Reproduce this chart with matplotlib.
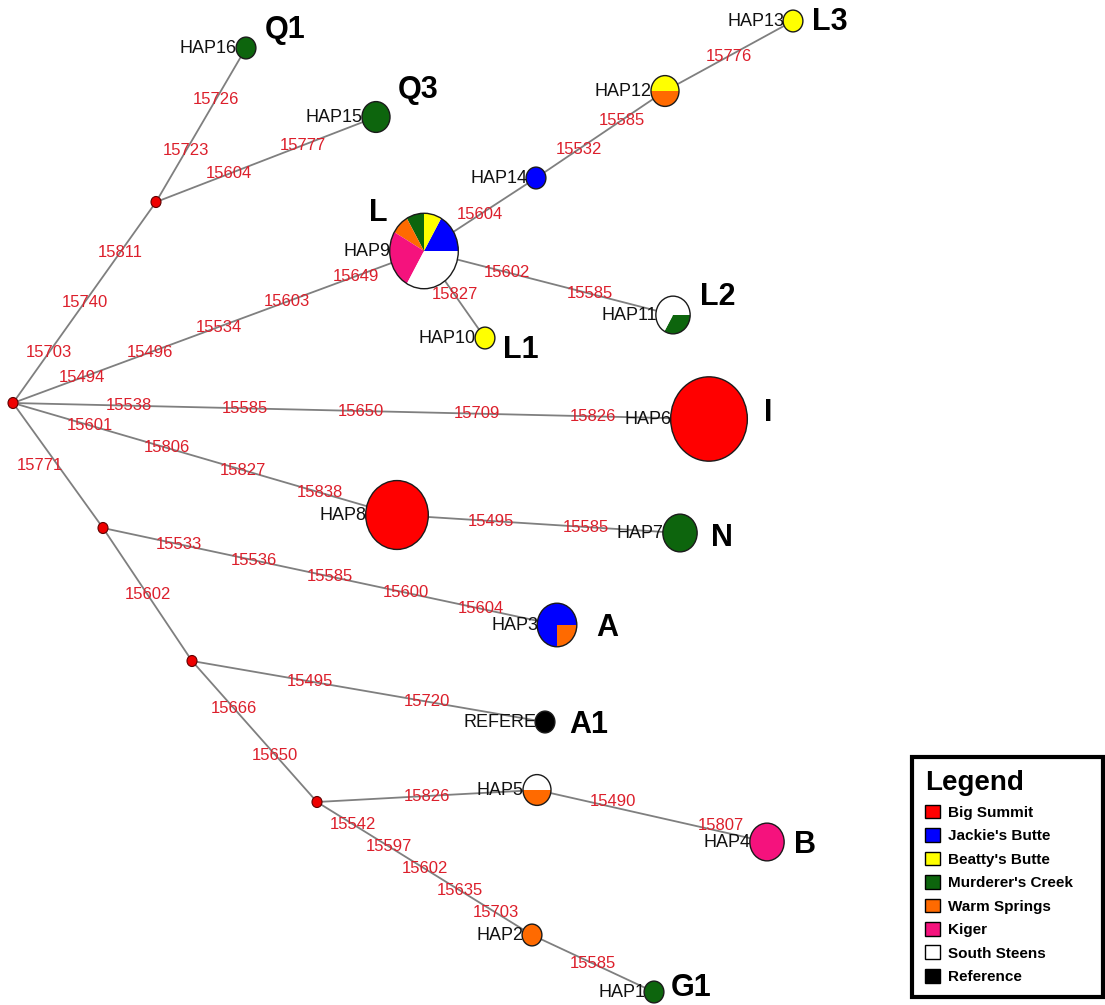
import matplotlib.pyplot as plt
import matplotlib.transforms as mtransforms
from matplotlib.patches import Wedge, Ellipse, Patch
import numpy as np

plt.rcParams['font.family'] = ['Liberation Sans', 'DejaVu Sans']

W, H = 1105, 1005
SY = 1.1   # node outlines are drawn a little taller than wide
R1 = 9.9   # radius of a node holding one sample

populations = ["Big Summit", "Jackie's Butte", "Beatty's Butte", "Murderer's Creek",
               "Warm Springs", "Kiger", "South Steens", "Reference"]
pop_colors = ['#ff0000', '#0000ff', '#ffff00', '#0d650d',
              '#ff6a00', '#f5127d', '#ffffff', '#000000']

# haplotypes: layout position, sample counts per population (same order as above)
hap_names = ['HAP1', 'HAP2', 'HAP3', 'HAP4', 'HAP5', 'HAP6', 'HAP7', 'HAP8',
             'HAP9', 'HAP10', 'HAP11', 'HAP12', 'HAP13', 'HAP14', 'HAP15', 'HAP16', 'REFERE']
hap_x = [654, 532, 557, 767, 537, 709, 680, 397, 424, 485, 673, 665, 793, 536, 376, 246, 545]
hap_y = [992, 935, 625, 842, 790, 419, 533, 515, 251, 338, 315, 91, 21, 178, 117, 48, 722]
hap_counts = [
    [0, 0, 0, 1, 0, 0, 0, 0],   # HAP1
    [0, 0, 0, 0, 1, 0, 0, 0],   # HAP2
    [0, 3, 0, 0, 1, 0, 0, 0],   # HAP3
    [0, 0, 0, 0, 0, 3, 0, 0],   # HAP4
    [0, 0, 0, 0, 1, 0, 1, 0],   # HAP5
    [15, 0, 0, 0, 0, 0, 0, 0],  # HAP6
    [0, 0, 0, 3, 0, 0, 0, 0],   # HAP7
    [10, 0, 0, 0, 0, 0, 0, 0],  # HAP8
    [0, 2, 1, 1, 1, 3, 4, 0],   # HAP9
    [0, 0, 1, 0, 0, 0, 0, 0],   # HAP10
    [0, 0, 0, 1, 0, 0, 2, 0],   # HAP11
    [0, 0, 1, 0, 1, 0, 0, 0],   # HAP12
    [0, 0, 1, 0, 0, 0, 0, 0],   # HAP13
    [0, 1, 0, 0, 0, 0, 0, 0],   # HAP14
    [0, 0, 0, 2, 0, 0, 0, 0],   # HAP15
    [0, 0, 0, 1, 0, 0, 0, 0],   # HAP16
    [0, 0, 0, 0, 0, 0, 0, 1],   # REFERE
]
# angle where the first slice starts
hap_start = {'HAP5': 180, 'HAP11': -120}

# median vectors
mv_names = ['mv0', 'mv1', 'mv2', 'mv3', 'mv4']
mv_x = [13, 156, 103, 192, 317]
mv_y = [403, 202, 528, 661, 802]

# links with the mutated positions written along them
edges = [
    ('mv0', 'mv1', ['15703', '15740', '15811']),
    ('mv1', 'HAP16', ['15723', '15726']),
    ('mv1', 'HAP15', ['15604', '15777']),
    ('mv0', 'HAP9', ['15494', '15496', '15534', '15603', '15649']),
    ('HAP9', 'HAP14', ['15604']),
    ('HAP14', 'HAP12', ['15532', '15585']),
    ('HAP12', 'HAP13', ['15776']),
    ('HAP9', 'HAP11', ['15602', '15585']),
    ('HAP9', 'HAP10', ['15827']),
    ('mv0', 'HAP6', ['15538', '15585', '15650', '15709', '15826']),
    ('mv0', 'HAP8', ['15601', '15806', '15827', '15838']),
    ('HAP8', 'HAP7', ['15495', '15585']),
    ('mv0', 'mv2', ['15771']),
    ('mv2', 'HAP3', ['15533', '15536', '15585', '15600', '15604']),
    ('mv2', 'mv3', ['15602']),
    ('mv3', 'REFERE', ['15495', '15720']),
    ('mv3', 'mv4', ['15666', '15650']),
    ('mv4', 'HAP5', ['15826']),
    ('HAP5', 'HAP4', ['15490', '15807']),
    ('mv4', 'HAP2', ['15542', '15597', '15602', '15635', '15703']),
    ('HAP2', 'HAP1', ['15585']),
]
label_frac = {('HAP5', 'HAP4'): [0.33, 0.80]}
label_shift = {('mv0', 'mv2'): (-18, 0), ('HAP5', 'HAP4'): (0, -6)}

# clade letters
clade_text = ['Q1', 'Q3', 'L', 'L3', 'L2', 'L1', 'I', 'N', 'A', 'A1', 'B', 'G1']
clade_x = [285, 418, 378, 830, 718, 521, 768, 722, 607, 589, 805, 691]
clade_y = [30, 90, 213, 22, 297, 350, 413, 538, 628, 725, 845, 988]

pos = {n: (x, y) for n, x, y in zip(hap_names, hap_x, hap_y)}
pos.update({n: (x, y) for n, x, y in zip(mv_names, mv_x, mv_y)})

fig = plt.figure(figsize=(W / 100, H / 100), dpi=100)
ax = fig.add_axes([0, 0, 1, 1])
ax.set_xlim(0, W)
ax.set_ylim(H, 0)
ax.axis('off')

# links and mutation labels
for a, b, muts in edges:
    (x0, y0), (x1, y1) = pos[a], pos[b]
    ax.plot([x0, x1], [y0, y1], color='#7f7f7f', lw=1.3, zorder=1)
    fr = label_frac.get((a, b), [(i + 1) / (len(muts) + 1) for i in range(len(muts))])
    dx, dy = label_shift.get((a, b), (0, 0))
    for m, f in zip(muts, fr):
        ax.text(x0 + f * (x1 - x0) + dx, y0 + f * (y1 - y0) + dy, m,
                color='#dc1f2b', fontsize=12, ha='center', va='center', zorder=2)

# median vectors
for x, y in zip(mv_x, mv_y):
    ax.add_patch(Ellipse((x, y), 10, 10 * SY, facecolor='#ee0000',
                         edgecolor='#600000', lw=0.8, zorder=3))

# haplotype pies
for name, x, y, counts in zip(hap_names, hap_x, hap_y, hap_counts):
    total = sum(counts)
    r = R1 * np.sqrt(total)
    tr = mtransforms.Affine2D().scale(r, -r * SY).translate(x, y) + ax.transData
    ang = hap_start.get(name, 0)
    for c, col in zip(counts, pop_colors):
        if c == 0:
            continue
        span = 360 * c / total
        ax.add_patch(Wedge((0, 0), 1, ang, ang + span, facecolor=col,
                           lw=0, transform=tr, zorder=3))
        ang += span
    ax.add_patch(Ellipse((x, y), 2 * r, 2 * r * SY, fill=False,
                         edgecolor='#1a1a1a', lw=1.0, zorder=4))
    ax.text(x - r + 1, y, name, fontsize=13, ha='right', va='center',
            color='#111111', zorder=5)

for t, x, y in zip(clade_text, clade_x, clade_y):
    ax.text(x, y, t, fontsize=22, fontweight='bold', ha='center', va='center', zorder=5)

handles = [Patch(facecolor=c, edgecolor='black', lw=1) for c in pop_colors]
leg = ax.legend(handles, populations, loc='lower left', mode='expand',
                bbox_to_anchor=(912 / W, 1 - 997 / H, 191 / W, 236 / H), borderaxespad=0,
                title='Legend', title_fontproperties={'weight': 'bold', 'size': 20},
                prop={'weight': 'bold', 'size': 11}, alignment='left',
                fancybox=False, framealpha=1, handlelength=1.0, handleheight=1.0,
                handletextpad=0.5, labelspacing=0.55, borderpad=0.85)
leg.get_frame().set_edgecolor('black')
leg.get_frame().set_linewidth(3)

fig.savefig('out.png', dpi=100)
